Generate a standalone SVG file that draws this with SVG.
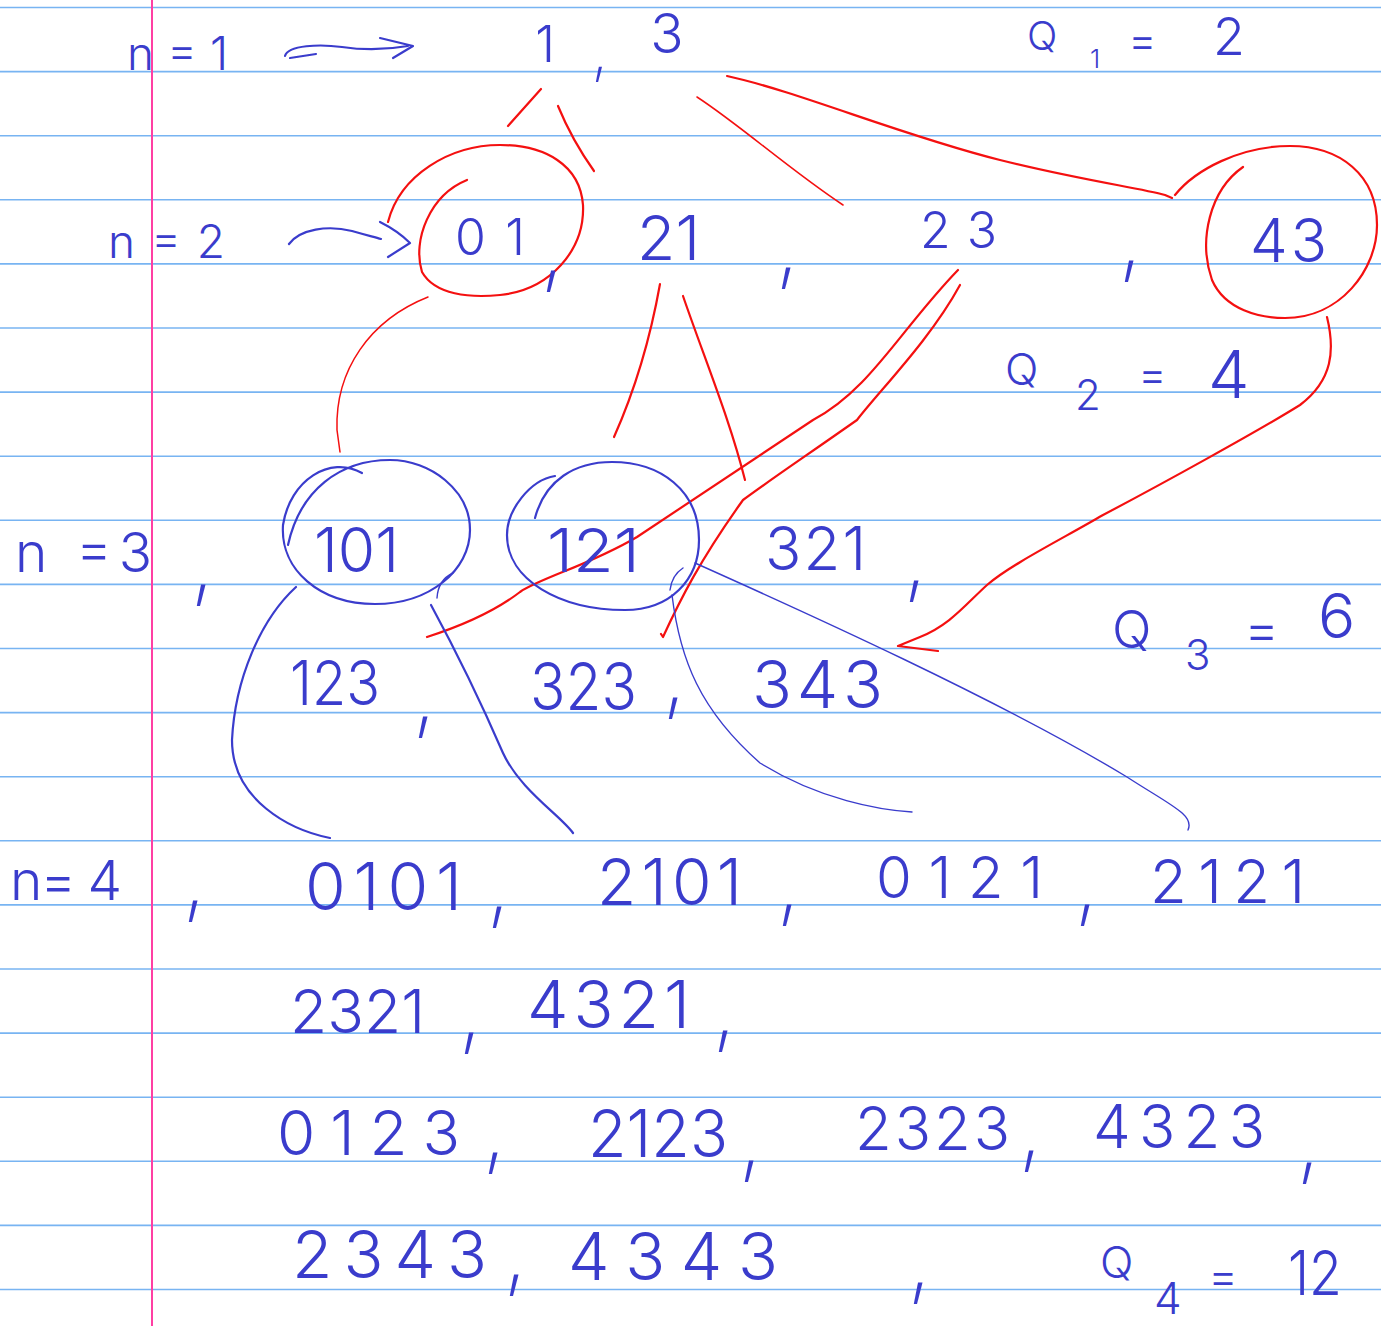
<svg xmlns="http://www.w3.org/2000/svg" width="1381" height="1326" viewBox="0 0 1381 1326">
<style>
.rule{stroke:#78b4f2;stroke-width:1.6}
.hw{font-family:Inter,"Open Sans","Liberation Sans",sans-serif;font-weight:300;fill:#3a3ccc}
.cm{font-family:Inter,"Open Sans","Liberation Sans",sans-serif;font-weight:200;fill:#3a3ccc;font-size:90px}
.red{fill:none;stroke:#f41010;stroke-width:2.2;stroke-linecap:round;stroke-linejoin:round}
.redt{fill:none;stroke:#f41010;stroke-width:1.5;stroke-linecap:round}
.blu{fill:none;stroke:#3a3ccc;stroke-width:2.2;stroke-linecap:round;stroke-linejoin:round}
.blut{fill:none;stroke:#3a3ccc;stroke-width:1.4;stroke-linecap:round}
</style>
<rect width="1381" height="1326" fill="#ffffff"/>
<g id="paper">
<line class="rule" x1="0" x2="1381" y1="7.5" y2="7.5"/>
<line class="rule" x1="0" x2="1381" y1="71.6" y2="71.6"/>
<line class="rule" x1="0" x2="1381" y1="135.7" y2="135.7"/>
<line class="rule" x1="0" x2="1381" y1="199.8" y2="199.8"/>
<line class="rule" x1="0" x2="1381" y1="263.9" y2="263.9"/>
<line class="rule" x1="0" x2="1381" y1="328" y2="328"/>
<line class="rule" x1="0" x2="1381" y1="392.1" y2="392.1"/>
<line class="rule" x1="0" x2="1381" y1="456.2" y2="456.2"/>
<line class="rule" x1="0" x2="1381" y1="520.3" y2="520.3"/>
<line class="rule" x1="0" x2="1381" y1="584.4" y2="584.4"/>
<line class="rule" x1="0" x2="1381" y1="648.5" y2="648.5"/>
<line class="rule" x1="0" x2="1381" y1="712.6" y2="712.6"/>
<line class="rule" x1="0" x2="1381" y1="776.7" y2="776.7"/>
<line class="rule" x1="0" x2="1381" y1="840.8" y2="840.8"/>
<line class="rule" x1="0" x2="1381" y1="904.9" y2="904.9"/>
<line class="rule" x1="0" x2="1381" y1="969" y2="969"/>
<line class="rule" x1="0" x2="1381" y1="1033.1" y2="1033.1"/>
<line class="rule" x1="0" x2="1381" y1="1097.2" y2="1097.2"/>
<line class="rule" x1="0" x2="1381" y1="1161.3" y2="1161.3"/>
<line class="rule" x1="0" x2="1381" y1="1225.4" y2="1225.4"/>
<line class="rule" x1="0" x2="1381" y1="1289.5" y2="1289.5"/>
<line x1="152" x2="152" y1="0" y2="1326" stroke="#ff3fa3" stroke-width="2"/>
</g>

<g id="connectors">
<path class="blu" d="M285 56 C288 45 320 44 342 47 C362 50 385 50 408 46 M290 58 L316 54 M380 38 L413 46 L393 58"/>
<path class="blu" d="M289 244 C300 229 328 225 352 231 C366 235 374 237 381 239 M380 222 C392 228 403 236 410 243 L388 257"/>
<path class="red" d="M541 89 L508 126"/>
<path class="red" d="M558 106 Q572 140 594 171"/>
<path class="redt" d="M697 97 C740 125 790 170 843 205"/>
<path class="red" d="M727 76 C800 92 900 135 1000 160 C1080 180 1140 188 1165 195 L1172 198"/>
<path class="redt" d="M428 297 C370 320 335 370 337 430 L340 452"/>
<path class="red" d="M660 284 C650 340 635 390 614 437"/>
<path class="red" d="M683 296 C705 360 730 420 745 480"/>
<path class="red" d="M958 270 C900 330 870 390 813 420 C760 455 700 495 637 537 C590 565 540 578 520 592 C490 615 455 628 427 637"/>
<path class="red" d="M960 285 C930 340 880 390 857 420 C800 460 770 480 743 500 C700 560 680 600 663 637 L661 634"/>
<path class="red" d="M1327 317 C1335 350 1333 380 1300 405 C1260 430 1160 485 1103 515 C1060 540 1010 565 987 585 C965 605 950 625 920 637 L898 646 L938 651"/>
<path class="blu" d="M296 587 C260 620 235 680 232 740 C232 800 290 830 330 838"/>
<path class="blu" d="M431 605 C450 640 480 700 503 753 C520 790 560 815 573 833"/>
<path class="blut" d="M437 598 Q438 580 453 573"/>
<path class="blut" d="M672 595 C680 660 700 710 760 763 C820 800 880 810 912 812"/>
<path class="blut" d="M670 590 Q672 575 683 568"/>
<path class="blut" d="M695 563 C800 610 1000 700 1127 777 C1170 805 1195 815 1188 830"/>
</g>

<g id="row1">
<text class="hw" x="127" y="70" font-size="46" textLength="101">n = 1</text>
<text class="hw" x="545" y="62" font-size="50" text-anchor="middle">1</text>
<text class="cm" x="591" y="72" font-size="64" style="font-size:64px">,</text>
<text class="hw" x="667" y="53" font-size="55" text-anchor="middle">3</text>
<g id="q1"><text class="hw" x="1027" y="50" font-size="40">Q</text><text class="hw" x="1090" y="68" font-size="26">1</text><text class="hw" x="1128" y="56" font-size="44">=</text><text class="hw" x="1213" y="55" font-size="52">2</text></g>
</g>

<g id="row2">
<text class="hw" x="108" y="258" font-size="46" textLength="117">n = 2</text>
<g id="node-01"><path class="red" d="M467 180 C430 195 412 240 422 272 C435 295 470 298 500 295 C550 290 585 250 583 205 C580 165 545 145 500 145 C450 145 400 175 388 222"/><text class="hw" x="455" y="255" font-size="50" textLength="70">01</text></g>
<text class="cm" x="540" y="278">,</text>
<g id="node-21"><text class="hw" x="637" y="260" font-size="62" textLength="63" lengthAdjust="spacingAndGlyphs">21</text></g>
<text class="cm" x="775" y="275">,</text>
<g id="node-23"><text class="hw" x="920" y="248" font-size="50" textLength="77">23</text></g>
<text class="cm" x="1118" y="268">,</text>
<g id="node-43"><path class="red" d="M1243 167 C1210 190 1198 240 1212 280 C1225 310 1260 318 1285 318 C1340 318 1377 270 1377 225 C1377 175 1340 146 1290 146 C1240 146 1195 170 1175 195"/><text class="hw" x="1250" y="262" font-size="60" textLength="77">43</text></g>
<g id="q2"><text class="hw" x="1005" y="385" font-size="44">Q</text><text class="hw" x="1075" y="410" font-size="42">2</text><text class="hw" x="1138" y="390" font-size="44">=</text><text class="hw" x="1208" y="398" font-size="66">4</text></g>
</g>

<g id="row3">
<text class="hw" x="15" y="572" font-size="55" textLength="137">n =3</text>
<text class="cm" x="190" y="592">,</text>
<g id="node-101"><path class="blu" d="M362 473 C330 455 290 480 283 525 C280 570 320 604 375 604 C430 604 470 570 470 530 C470 490 430 460 390 460 C340 460 300 490 288 545"/><text class="hw" x="314" y="572" font-size="62" textLength="85" lengthAdjust="spacingAndGlyphs">101</text></g>
<g id="node-121"><path class="blu" d="M555 476 C530 480 507 510 507 535 C507 580 560 610 625 610 C670 610 699 580 699 540 C699 490 660 462 612 462 C575 462 545 480 535 518"/><text class="hw" x="547" y="572" font-size="60" textLength="93" lengthAdjust="spacingAndGlyphs">121</text></g>
<g id="node-321"><text class="hw" x="765" y="570" font-size="60" textLength="101">321</text></g>
<text class="cm" x="903" y="588">,</text>
<g id="q3"><text class="hw" x="1112" y="648" font-size="52">Q</text><text class="hw" x="1185" y="670" font-size="42">3</text><text class="hw" x="1244" y="648" font-size="54">=</text><text class="hw" x="1318" y="638" font-size="62">6</text></g>
</g>

<g id="row4">
<g id="node-123"><text class="hw" x="290" y="705" font-size="62" textLength="90" lengthAdjust="spacingAndGlyphs">123</text></g>
<text class="cm" x="412" y="724">,</text>
<g id="node-323"><text class="hw" x="530" y="710" font-size="66" textLength="107" lengthAdjust="spacingAndGlyphs">323</text></g>
<text class="cm" x="662" y="705">,</text>
<g id="node-343"><text class="hw" x="752" y="708" font-size="66" textLength="131">343</text></g>
</g>

<g id="row5">
<text class="hw" x="10" y="900" font-size="55" textLength="112">n= 4</text>
<text class="cm" x="182" y="908">,</text>
<text class="hw" x="305" y="910" font-size="66" textLength="157">0101</text>
<text class="cm" x="486" y="914">,</text>
<text class="hw" x="597" y="905" font-size="64" textLength="145">2101</text>
<text class="cm" x="776" y="912">,</text>
<text class="hw" x="876" y="898" font-size="58" textLength="167">0121</text>
<text class="cm" x="1074" y="912">,</text>
<text class="hw" x="1150" y="903" font-size="60" textLength="155">2121</text>
</g>

<g id="row6">
<text class="hw" x="290" y="1033" font-size="60" textLength="135" lengthAdjust="spacingAndGlyphs">2321</text>
<text class="cm" x="458" y="1040">,</text>
<text class="hw" x="527" y="1028" font-size="66" textLength="163">4321</text>
<text class="cm" x="712" y="1038">,</text>
</g>

<g id="row7">
<text class="hw" x="277" y="1155" font-size="62" textLength="183">0123</text>
<text class="cm" x="482" y="1160">,</text>
<text class="hw" x="588" y="1157" font-size="66" textLength="140" lengthAdjust="spacingAndGlyphs">2123</text>
<text class="cm" x="738" y="1168">,</text>
<text class="hw" x="855" y="1150" font-size="60" textLength="155">2323</text>
<text class="cm" x="1018" y="1158">,</text>
<text class="hw" x="1093" y="1148" font-size="60" textLength="172">4323</text>
<text class="cm" x="1296" y="1170">,</text>
</g>

<g id="row8">
<text class="hw" x="292" y="1278" font-size="66" textLength="195">2343</text>
<text class="cm" x="503" y="1282">,</text>
<text class="hw" x="568" y="1280" font-size="66" textLength="210">4343</text>
<text class="cm" x="907" y="1290">,</text>
<g id="q4"><text class="hw" x="1100" y="1278" font-size="44">Q</text><text class="hw" x="1154" y="1314" font-size="44">4</text><text class="hw" x="1208" y="1292" font-size="46">=</text><text class="hw" x="1288" y="1295" font-size="62" textLength="54" lengthAdjust="spacingAndGlyphs">12</text></g>
</g>
</svg>
